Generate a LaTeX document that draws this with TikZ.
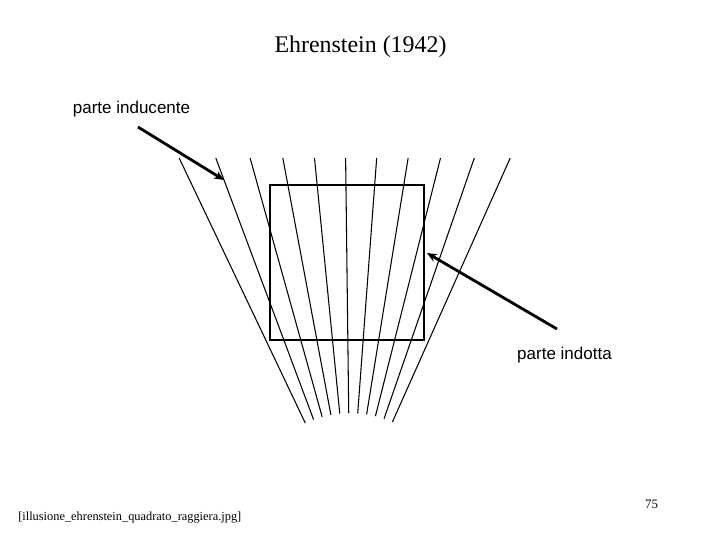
\documentclass[tikz,border=0pt]{standalone}
\usepackage{fontspec}
\setmainfont{Liberation Serif}
\setsansfont{Liberation Sans}
\usetikzlibrary{arrows.meta,calc}

\tikzset{
  ray/.style={line width=0.75pt},
  frame/.style={line width=1.5pt},
  pointer/.style={line width=2pt,-{Stealth[length=7pt,width=6pt]}},
  tag/.style={font=\sffamily\fontsize{12.1}{14}\selectfont,inner sep=0pt,anchor=base}
}

\begin{document}
\begin{tikzpicture}[x=0.025cm,y=0.025cm]
        \useasboundingbox (0,0) rectangle (720,540);

        % Titolo
        \node[font=\fontsize{17}{20}\selectfont,inner sep=0pt,anchor=base] (titolo) at (360.5,487) {Ehrenstein (1942)};

        % La raggiera
        \coordinate (O) at (350,23);
        \foreach \k in {-5,...,5}{
          \pgfmathsetmacro{\a}{90.7+4.95*\k}
          \draw[ray] ($(O)+(\a:104)$) -- ($(O)+(\a:{359/sin(\a)})$);
        }

        % Il quadrato
        \draw[frame] (270,355) rectangle (424,200);

        % Parte inducente
        \node[tag] (inducente) at (131.5,426) {parte inducente};
        \coordinate (indA) at (138,413);
        \coordinate (indB) at (224,360);
        \draw[pointer] (indA) -- (indB);

        % Parte indotta
        \node[tag] (indotta) at (564.5,181) {parte indotta};
        \coordinate (dotA) at (557,211);
        \coordinate (dotB) at (427,287);
        \draw[pointer] (dotA) -- (dotB);

        % Didascalia e numero di pagina
        \node[font=\fontsize{8.8}{10}\selectfont,inner sep=0pt,anchor=base west] (file) at (18,20) {[illusione\_ehrenstein\_quadrato\_raggiera.jpg]};
        \node[font=\fontsize{9.2}{10}\selectfont,inner sep=0pt,anchor=base] (pagina) at (651.5,32) {75};
    \end{tikzpicture}
\end{document}
